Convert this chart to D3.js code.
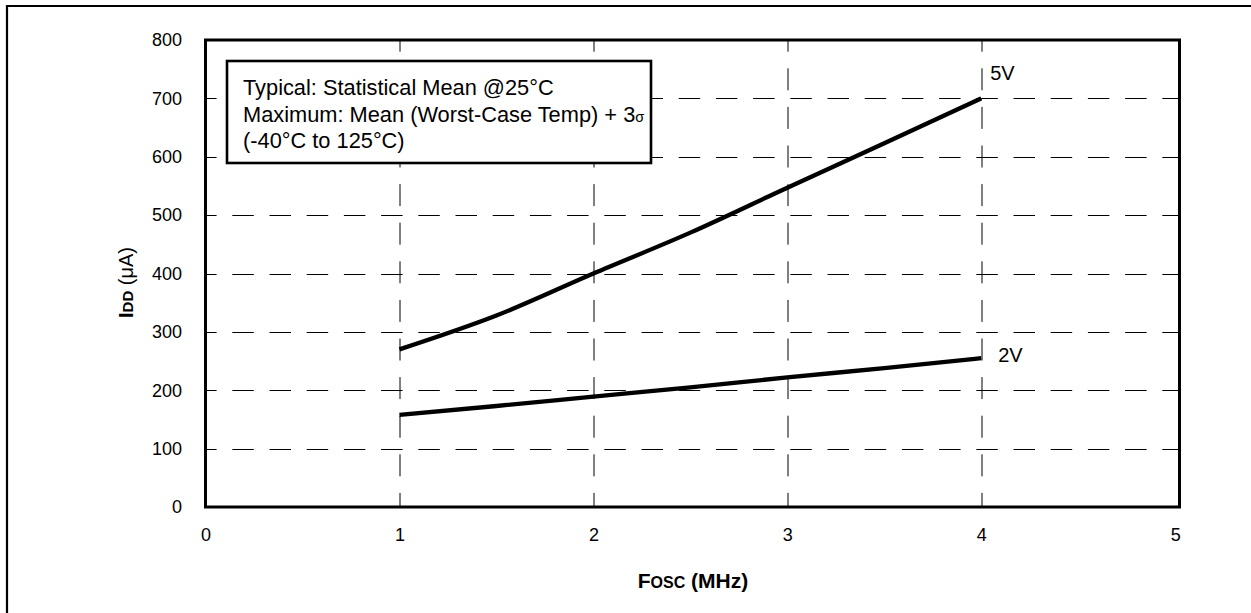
<!DOCTYPE html>
<html>
<head>
<meta charset="utf-8">
<script src="https://cdn.jsdelivr.net/npm/d3@7"></script>
<style>
  html, body { margin: 0; padding: 0; background: #fff; }
  text { font-family: Arial, "Liberation Sans", sans-serif; fill: #000; }
</style>
</head>
<body>
<div id="chart"></div>
<script>
// IDD vs FOSC, typical/maximum curves for two supply voltages

var freqTicks = [0, 1, 2, 3, 4, 5];
var iddTicks = [0, 100, 200, 300, 400, 500, 600, 700, 800];

var freqMHz = [1, 1.5, 2, 2.5, 3, 3.5, 4];
var idd5V = [270, 328, 400, 470, 547, 623, 700];
var idd2V = [158, 173, 189, 205, 222, 238, 255];
var seriesNames = ["5V", "2V"];

var noteLines = [
  "Typical: Statistical Mean @25°C",
  "Maximum: Mean (Worst-Case Temp) + 3",
  "(-40°C to 125°C)"
];

var W = 1251, H = 613;
var margin = {top: 40, right: 71.5, bottom: 106, left: 205.5};
var pw = W - margin.left - margin.right,
    ph = H - margin.top - margin.bottom;

var svg = d3.select("#chart").append("svg")
    .attr("width", W)
    .attr("height", H);

svg.append("rect").attr("width", W).attr("height", H).attr("fill", "#fff");

// outer page frame (cropped at right and bottom)
svg.append("path")
    .attr("d", "M7," + H + "V6H" + W)
    .attr("fill", "none")
    .attr("stroke", "#000")
    .attr("stroke-width", 2.2);

var g = svg.append("g")
    .attr("transform", "translate(" + margin.left + "," + margin.top + ")");

var x = d3.scaleLinear().domain([0, 5]).range([0, pw - 4.3]);
var y = d3.scaleLinear().domain([0, 800]).range([ph, 0]);

// dashed grid
g.append("g").attr("class", "hgrid")
  .selectAll("line")
  .data(iddTicks.filter(function(d) { return d > 0 && d < 800; }))
  .enter().append("line")
    .attr("x1", 0).attr("x2", pw)
    .attr("y1", function(d) { return Math.round(y(d)) + 0.5; })
    .attr("y2", function(d) { return Math.round(y(d)) + 0.5; })
    .attr("stroke", "#000")
    .attr("stroke-width", 1)
    .attr("stroke-dasharray", "21.5 15.7")
    .attr("stroke-dashoffset", 10.4);

g.append("g").attr("class", "vgrid")
  .selectAll("line")
  .data(freqTicks.filter(function(d) { return d > 0 && d < 5; }))
  .enter().append("line")
    .attr("x1", function(d) { return Math.round(x(d)) + 0.5; })
    .attr("x2", function(d) { return Math.round(x(d)) + 0.5; })
    .attr("y1", 0).attr("y2", ph)
    .attr("stroke", "#000")
    .attr("stroke-width", 1)
    .attr("stroke-dasharray", "22 16.6")
    .attr("stroke-dashoffset", 10.3);

// note box
var box = g.append("g").attr("transform", "translate(" + (227 - margin.left) + "," + (61 - margin.top) + ")");
box.append("rect")
    .attr("width", 424).attr("height", 102)
    .attr("fill", "#fff")
    .attr("stroke", "#000")
    .attr("stroke-width", 2.6);
noteLines.forEach(function(line, i) {
  var t = box.append("text")
      .attr("font-size", 21.8)
      .attr("x", 16)
      .attr("y", 34 + i * 26.7)
      .text(line);
  if (i === 1) {
    t.append("tspan").attr("font-size", 14.5).text("σ");
  }
});

// curves
var line = d3.line()
    .x(function(d) { return x(d.f); })
    .y(function(d) { return y(d.v); })
    .curve(d3.curveMonotoneX);

var series = [idd5V, idd2V].map(function(vals, i) {
  return {
    name: seriesNames[i],
    points: freqMHz.map(function(f, j) { return {f: f, v: vals[j]}; })
  };
});

g.append("g").selectAll("path")
  .data(series)
  .enter().append("path")
    .attr("d", function(d) { return line(d.points); })
    .attr("fill", "none")
    .attr("stroke", "#000")
    .attr("stroke-width", 4.3);

var labelOffset = {"5V": [9, -18], "2V": [17, 4]};
g.append("g").selectAll("text")
  .data(series)
  .enter().append("text")
    .attr("font-size", 20)
    .attr("x", function(d) { var p = d.points[d.points.length - 1]; return x(p.f) + labelOffset[d.name][0]; })
    .attr("y", function(d) { var p = d.points[d.points.length - 1]; return y(p.v) + labelOffset[d.name][1]; })
    .text(function(d) { return d.name; });

// plot frame
g.append("rect")
    .attr("width", pw).attr("height", ph)
    .attr("fill", "none")
    .attr("stroke", "#000")
    .attr("stroke-width", 3);

// axes
var yAxis = g.append("g")
    .call(d3.axisLeft(y).tickValues(iddTicks).tickSize(0).tickPadding(23.5)
      .tickFormat(d3.format("d")));
var xAxis = g.append("g")
    .attr("transform", "translate(0," + ph + ")")
    .call(d3.axisBottom(x).tickValues(freqTicks).tickSize(0).tickPadding(21)
      .tickFormat(d3.format("d")));
[yAxis, xAxis].forEach(function(a) {
  a.select(".domain").remove();
  a.attr("font-family", null).attr("font-size", null);
  a.selectAll("text").attr("font-size", 18).attr("fill", "#000");
});

// axis titles
var xt = svg.append("text")
    .attr("x", 693).attr("y", 588)
    .attr("text-anchor", "middle")
    .attr("font-weight", "bold")
    .attr("font-size", 21);
xt.append("tspan").text("F");
xt.append("tspan").attr("font-size", 16).text("OSC");
xt.append("tspan").text(" (MHz)");

var yt = svg.append("text")
    .attr("transform", "translate(133,282.5) rotate(-90)")
    .attr("text-anchor", "middle")
    .attr("font-size", 20);
yt.append("tspan").attr("font-weight", "bold").text("I");
yt.append("tspan").attr("font-weight", "bold").attr("font-size", 15).text("DD");
yt.append("tspan").text(" (μA)");
</script>
</body>
</html>
